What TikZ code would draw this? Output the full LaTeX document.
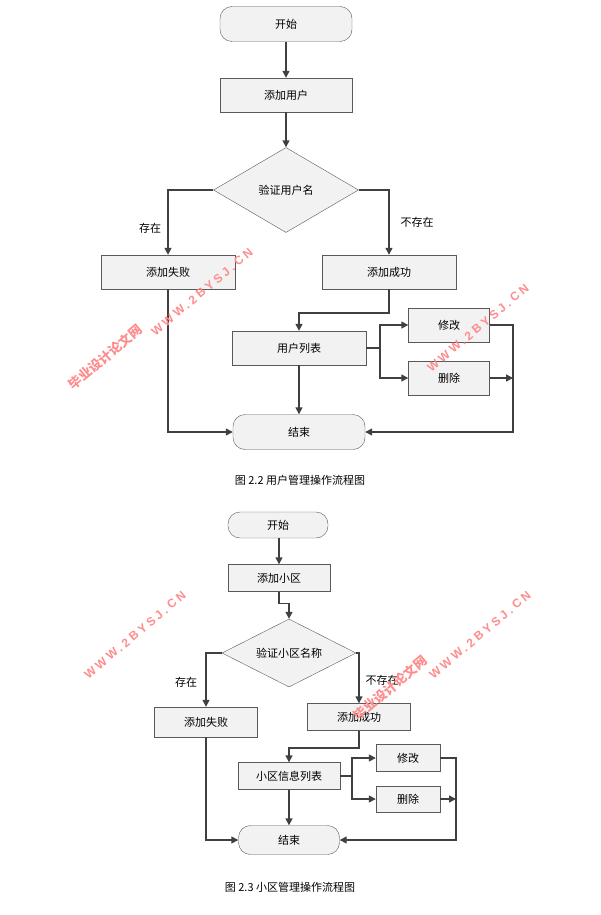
\documentclass[tikz,border=0pt]{standalone}
\usepackage{fontspec}
\newfontfamily\cjk{Noto Sans CJK SC}
\newfontfamily\wmfont[LetterSpace=25]{Liberation Sans}
\setmainfont{Liberation Serif}
\usetikzlibrary{shapes.geometric,arrows.meta}
\begin{document}
\begin{tikzpicture}[x=1pt,y=-1pt,
 box/.style={draw=gray!70!black,fill=gray!10,inner sep=0pt,font=\cjk\fontsize{11}{13}\selectfont},
 term/.style={box,rounded corners=12pt},
 dia/.style={box,diamond,aspect=1.7},
 arr/.style={draw=black!75,line width=1.4pt,-{Triangle[length=7pt,width=7pt]}},
 ln/.style={draw=black!75,line width=1.4pt},
 lab/.style={font=\cjk\fontsize{11}{13}\selectfont},
 wm/.style={text=red!45,font=\wmfont\bfseries\fontsize{12}{14}\selectfont,rotate=40},
 wmc/.style={text=red!45,font=\cjk\bfseries\fontsize{13}{14}\selectfont,rotate=40}]
\useasboundingbox (0,0) rectangle (600,915);
% chart 1
\node[term,minimum width=132pt,minimum height=35pt] (s1) at (286,24) {开始};
\node[box,minimum width=132pt,minimum height=34pt] (a1) at (286,95) {添加用户};
\node[dia,minimum width=145pt,minimum height=85pt] (d1) at (286,190) {验证用户名};
\node[box,minimum width=134pt,minimum height=34pt] (f1) at (168,272) {添加失败};
\node[box,minimum width=134pt,minimum height=34pt] (ok1) at (389,272) {添加成功};
\node[box,minimum width=134pt,minimum height=34pt] (l1) at (299,348) {用户列表};
\node[box,minimum width=81pt,minimum height=34pt] (m1) at (449,325) {修改};
\node[box,minimum width=81pt,minimum height=34pt] (x1) at (449,378) {删除};
\node[term,minimum width=132pt,minimum height=35pt] (e1) at (299,432) {结束};
\node[lab] at (300,480) {图 2.2 用户管理操作流程图};
\draw[arr] (s1) -- (a1);
\draw[arr] (a1) -- (d1.north);
\draw[arr] (d1.west) -| (f1.north);
\draw[arr] (d1.east) -| (ok1.north);
\node[lab] at (150,228) {存在};
\node[lab] at (417,222) {不存在};
\draw[arr] (f1.south) |- (e1.west);
\draw[arr] (ok1.south) |- (299,313) -- (l1.north);
\coordinate (j1) at (380,348);
\draw[ln] (l1.east) -- (j1);
\draw[arr] (j1) |- (m1.west);
\draw[arr] (j1) |- (x1.west);
\draw[arr] (l1) -- (e1);
\draw[arr] (m1.east) -| (513,432) -- (e1.east);
\draw[arr] (x1.east) -- (513,378);
% chart 2
\node[term,minimum width=100pt,minimum height=26pt] (s2) at (278,525) {开始};
\node[box,minimum width=102pt,minimum height=27pt] (a2) at (279,578) {添加小区};
\node[dia,minimum width=134pt,minimum height=68pt] (d2) at (289,653) {验证小区名称};
\node[box,minimum width=103pt,minimum height=30pt] (f2) at (206,722) {添加失败};
\node[box,minimum width=103pt,minimum height=27pt] (ok2) at (359,717) {添加成功};
\node[box,minimum width=102pt,minimum height=27pt] (l2) at (289,776) {小区信息列表};
\node[box,minimum width=64pt,minimum height=27pt] (m2) at (408,758) {修改};
\node[box,minimum width=64pt,minimum height=26pt] (x2) at (408,799) {删除};
\node[term,minimum width=101pt,minimum height=29pt] (e2) at (289,840) {结束};
\node[lab] at (290,887) {图 2.3 小区管理操作流程图};
\draw[arr] (s2.south -| a2.north) -- (a2.north);
\draw[arr] (a2.south) -- ++(0,12) -| (d2.north);
\draw[arr] (d2.west) -| (f2.north);
\draw[arr] (d2.east) -| (ok2.north);
\node[lab] at (186,682) {存在};
\node[lab] at (382,680) {不存在};
\draw[arr] (f2.south) |- (e2.west);
\draw[arr] (ok2.south) |- (289,748) -- (l2.north);
\coordinate (j2) at (352,776);
\draw[ln] (l2.east) -- (j2);
\draw[arr] (j2) |- (m2.west);
\draw[arr] (j2) |- (x2.west);
\draw[arr] (l2) -- (e2);
\draw[arr] (m2.east) -| (456,840) -- (e2.east);
\draw[arr] (x2.east) -- (456,799);
% watermarks
\node[wm] at (202,292) {WWW.2BYSJ.CN};
\node[wmc] at (105,357) {毕业设计论文网};
\node[wm] at (478,328) {WWW.2BYSJ.CN};
\node[wm] at (135,635) {WWW.2BYSJ.CN};
\node[wmc] at (390,688) {毕业设计论文网};
\node[wm] at (480,635) {WWW.2BYSJ.CN};
\end{tikzpicture}
\end{document}
